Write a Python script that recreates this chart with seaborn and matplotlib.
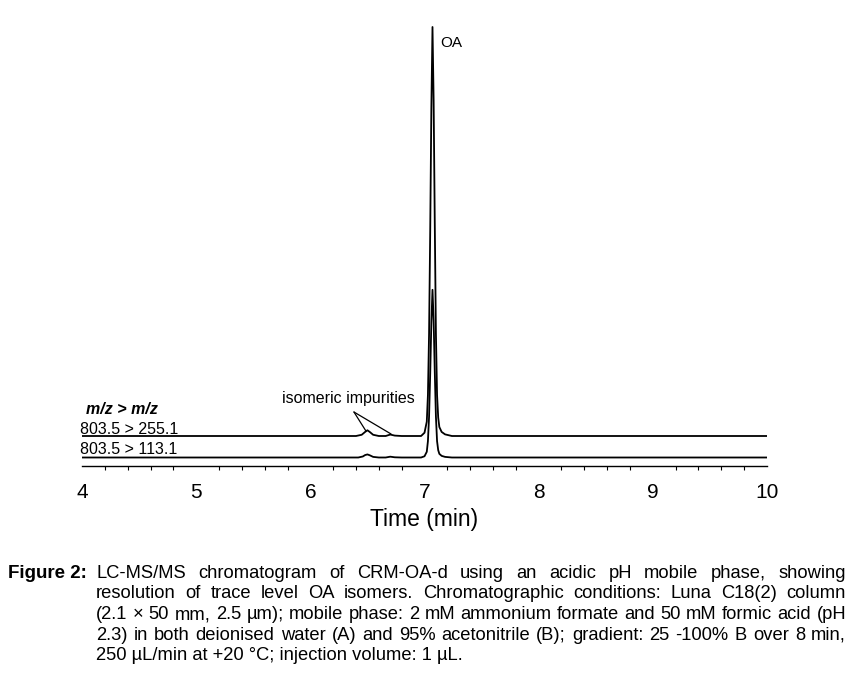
import numpy as np
import pandas as pd
import matplotlib
matplotlib.use("Agg")
import matplotlib.pyplot as plt
from matplotlib import font_manager
from matplotlib.ticker import MultipleLocator
import seaborn as sns

# ---------------- data ----------------
# retention time (min) and relative intensity (% of OA peak in m/z 803.5 > 255.1)
t_255 = [4.00, 6.40, 6.45, 6.48, 6.50, 6.52, 6.55, 6.60, 6.66, 6.70, 6.74, 6.80,
         6.97, 7.00, 7.02, 7.03, 7.04, 7.05, 7.06, 7.07, 7.08, 7.09, 7.10, 7.11,
         7.12, 7.13, 7.15, 7.18, 7.24, 10.00]
i_255 = [0.0, 0.0, 0.3, 1.0, 1.4, 1.0, 0.3, 0.0, 0.0, 0.35, 0.1, 0.0,
         0.0, 0.8, 3.5, 10.0, 25.0, 50.0, 80.0, 100.0, 82.0, 52.0, 25.0, 10.0,
         4.5, 2.2, 1.0, 0.4, 0.0, 0.0]
t_113 = [4.00, 6.42, 6.46, 6.48, 6.50, 6.52, 6.55, 6.60, 6.66, 6.70, 6.74, 6.80,
         6.97, 7.00, 7.02, 7.03, 7.04, 7.05, 7.06, 7.07, 7.08, 7.09, 7.10, 7.11,
         7.12, 7.13, 7.15, 7.18, 7.24, 10.00]
i_113 = [0.0, 0.0, 0.25, 0.6, 0.75, 0.55, 0.15, 0.0, 0.0, 0.2, 0.05, 0.0,
         0.0, 0.3, 1.4, 4.0, 10.0, 20.5, 33.0, 41.0, 33.5, 21.0, 10.0, 4.0,
         1.8, 0.9, 0.4, 0.15, 0.0, 0.0]
trace_labels = ["803.5 > 255.1", "803.5 > 113.1"]
x_ticks = [4, 5, 6, 7, 8, 9, 10]

caption_lines = [
    "LC-MS/MS chromatogram of CRM-OA-d using an acidic pH mobile phase, showing",
    "resolution of trace level OA isomers. Chromatographic conditions: Luna C18(2) column",
    "(2.1 \u00d7 50 mm, 2.5 \u00b5m); mobile phase: 2 mM ammonium formate and 50 mM formic acid (pH",
    "2.3) in both deionised water (A) and 95% acetonitrile (B);  gradient: 25 -100% B over 8 min,",
    "250 \u00b5L/min at +20 \u00b0C; injection volume: 1 \u00b5L.",
]

# ---------------- style ----------------
sns.set_style("white")


def has_font(name):
    try:
        font_manager.findfont(name, fallback_to_default=False)
        return True
    except Exception:
        return False


main_font = "Liberation Sans Narrow" if has_font("Liberation Sans Narrow") else "Liberation Sans"
plt.rcParams["font.family"] = [main_font, "DejaVu Sans"]
plt.rcParams["text.color"] = "black"
plt.rcParams["axes.labelcolor"] = "black"
plt.rcParams["xtick.color"] = "black"

W, H = 866, 684
fig = plt.figure(figsize=(W / 100, H / 100), dpi=100)
fig.patch.set_facecolor("white")

# axes: x from px 82 to 767, y from px 466 (axis) to 20
ax = fig.add_axes([82 / W, 1 - 466 / H, (767 - 82) / W, (466 - 20) / H])

scale = 4.09          # px per % intensity
off_255, off_113 = 30.0, 8.5

df = pd.concat([
    pd.DataFrame({"t": t_255, "y": np.array(i_255) * scale + off_255, "trace": trace_labels[0]}),
    pd.DataFrame({"t": t_113, "y": np.array(i_113) * scale + off_113, "trace": trace_labels[1]}),
])
sns.lineplot(data=df, x="t", y="y", hue="trace", palette=["black", "black"],
             estimator=None, sort=False, linewidth=1.3, legend=False, ax=ax)

ax.set_xlim(4, 10)
ax.set_ylim(0, 446)
for s in ["top", "left", "right"]:
    ax.spines[s].set_visible(False)
ax.spines["bottom"].set_linewidth(1.0)
ax.spines["bottom"].set_color("black")
ax.set_yticks([])
ax.set_ylabel("")
ax.set_xticks(x_ticks)
ax.set_xticklabels([str(v) for v in x_ticks])
ax.xaxis.set_minor_locator(MultipleLocator(0.2))
ax.tick_params(axis="x", which="major", direction="out", length=4.5, width=1.0,
               color="black", labelcolor="black", labelsize=15, pad=8)
ax.tick_params(axis="x", which="minor", direction="out", length=3, width=0.8,
               color="black", bottom=True)
ax.set_xlabel("Time (min)", fontsize=16.5, labelpad=4, color="black")

# labels
ax.text(7.136, 423, "OA", fontsize=11, va="center", ha="left")
ax.text(4.035, 56, "m/z > m/z", fontsize=11.5, fontstyle="italic", fontweight="bold",
        va="center", ha="left", clip_on=False)
ax.text(3.98, 37, trace_labels[0], fontsize=11.5, va="center", ha="left", clip_on=False)
ax.text(3.985, 17, trace_labels[1], fontsize=11.5, va="center", ha="left", clip_on=False)
ax.text(6.334, 68, "isomeric impurities", fontsize=11.5, va="center", ha="center")
ax.plot([6.382, 6.487], [54, 35], color="black", lw=0.9)
ax.plot([6.382, 6.707], [54, 32], color="black", lw=0.9)

# caption (baseline aligned, justified)
cap_base = [578, 598, 619, 640, 660]
fig.text(8 / W, 1 - cap_base[0] / H, "Figure 2:", fontsize=13.5, fontweight="bold",
         va="baseline", ha="left")
renderer = fig.canvas.get_renderer()
x0_px, x1_px = 96, 846
cap_fs = 13.2
for k, line in enumerate(caption_lines):
    y = 1 - cap_base[k] / H
    if k == len(caption_lines) - 1:
        fig.text(x0_px / W, y, line, fontsize=cap_fs, va="baseline", ha="left")
        continue
    words = [w for w in line.split(" ") if w != ""]
    txts = [fig.text(0, y, w, fontsize=cap_fs, va="baseline", ha="left") for w in words]
    widths = [t.get_window_extent(renderer).width for t in txts]
    gap = (x1_px - x0_px - sum(widths)) / (len(words) - 1)
    x = x0_px
    for t, wd in zip(txts, widths):
        t.set_x(x / W)
        x += wd + gap

fig.savefig("out.png", dpi=100, facecolor="white")
